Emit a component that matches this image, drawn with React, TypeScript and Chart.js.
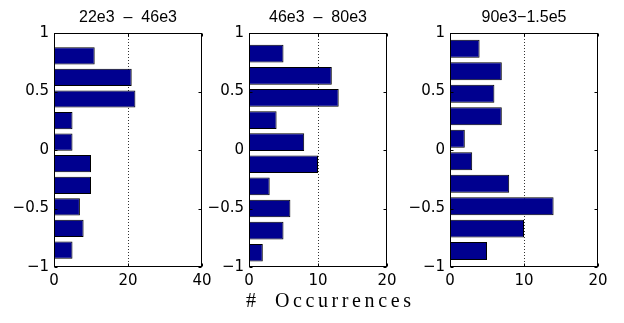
import React, { useEffect, useRef } from "react";
import { Chart, registerables } from "chart.js";
Chart.register(...registerables);

// ---- data ----
const binCenters1 = [0.804, 0.62, 0.436, 0.251, 0.067, -0.117, -0.302, -0.486, -0.67, -0.855];
const counts1 = [11, 21, 22, 5, 5, 10, 10, 7, 8, 5];
const binCenters2 = [0.823, 0.634, 0.445, 0.256, 0.067, -0.122, -0.311, -0.5, -0.689, -0.878];
const counts2 = [5, 12, 13, 4, 8, 10, 3, 6, 5, 2];
const binCenters3 = [0.865, 0.673, 0.481, 0.289, 0.097, -0.096, -0.288, -0.48, -0.672, -0.864];
const counts3 = [4, 7, 6, 7, 2, 3, 8, 14, 10, 5];
const panelTitles = ["22e3  –  46e3", "46e3  –  80e3", "90e3−1.5e5"];
const xMaxes = [40, 20, 20];
const xSteps = [20, 10, 10];
const yTickValues = [-1, -0.5, 0, 0.5, 1];
const xLabelSymbol = "#";
const xLabelWord = "Occurrences";

// ---- layout ----
const W = 624;
const H = 323;
const PLOT_TOP = 33;
const PLOT_BOTTOM = 267;
const YW = 50;
const PR = 20;
const XH = 30;
const panelsLayout = [
  { left: 54, width: 148 },
  { left: 249, width: 138 },
  { left: 450, width: 148 },
];
const BAR_COLOR = "#00008F";

const fmt = (v: number) => String(v).replace("-", "\u2212");

function makeFramePlugin(title: string) {
  return {
    id: "frameAndTitle",
    afterDraw(chart: any) {
      const ctx = chart.ctx;
      const a = chart.chartArea;
      const ys = chart.scales.y;
      const xs = chart.scales.x;
      const L = Math.round(a.left) + 0.5;
      const R = Math.round(a.right) - 0.5;
      const T = Math.round(a.top) + 0.5;
      const B = Math.round(a.bottom) - 0.5;
      ctx.save();
      ctx.strokeStyle = "#000";
      ctx.lineWidth = 1;
      ctx.setLineDash([]);
      ctx.strokeRect(L, T, R - L, B - T);
      const tl = 3;
      ctx.beginPath();
      yTickValues.forEach((v) => {
        const y = Math.round(ys.getPixelForValue(v)) + 0.5;
        ctx.moveTo(L, y);
        ctx.lineTo(L + tl, y);
        ctx.moveTo(R, y);
        ctx.lineTo(R - tl, y);
      });
      xs.ticks.forEach((t: any) => {
        const x = Math.round(xs.getPixelForValue(t.value)) + 0.5;
        ctx.moveTo(x, B);
        ctx.lineTo(x, B - tl);
        ctx.moveTo(x, T);
        ctx.lineTo(x, T + tl);
      });
      ctx.stroke();
      ctx.fillStyle = "#000";
      ctx.font = '16px "Liberation Sans", Arial, sans-serif';
      ctx.textAlign = "center";
      ctx.textBaseline = "alphabetic";
      ctx.fillText(title, (a.left + a.right) / 2, 22);
      ctx.restore();
    },
  };
}

function Panel(props: {
  centers: number[];
  counts: number[];
  title: string;
  xMax: number;
  xStep: number;
  left: number;
  width: number;
}) {
  const ref = useRef<HTMLCanvasElement>(null);
  const cw = YW + props.width + PR;
  useEffect(() => {
    const { centers, counts, title, xMax, xStep } = props;
    const chart = new Chart(ref.current as HTMLCanvasElement, {
      type: "bar",
      data: {
        datasets: [
          {
            data: centers.map((c, i) => ({ x: counts[i], y: c })),
            backgroundColor: BAR_COLOR,
            borderColor: "#000",
            borderWidth: 1,
            barPercentage: 0.8,
            categoryPercentage: 1,
          } as any,
        ],
      },
      options: {
        indexAxis: "y",
        animation: false,
        responsive: false,
        maintainAspectRatio: false,
        layout: { padding: { left: 0, right: PR, top: PLOT_TOP, bottom: H - PLOT_BOTTOM - XH } },
        plugins: { legend: { display: false }, tooltip: { enabled: false }, title: { display: false } },
        scales: {
          x: {
            type: "linear",
            min: 0,
            max: xMax,
            offset: false,
            ticks: {
              stepSize: xStep,
              color: "#000",
              font: { family: '"DejaVu Sans", sans-serif', size: 15 },
              padding: 5,
              maxRotation: 0,
              callback: (v: any) => fmt(Number(v)),
            },
            grid: {
              drawTicks: false,
              lineWidth: 1,
              color: (c: any) =>
                c.tick && c.tick.value > 0 && c.tick.value < xMax ? "#333" : "rgba(0,0,0,0)",
            },
            border: { display: false, dash: [1, 2] },
            afterFit: (s: any) => {
              s.height = XH;
            },
          },
          y: {
            type: "linear",
            min: -1,
            max: 1,
            offset: false,
            ticks: {
              stepSize: 0.5,
              color: "#000",
              font: { family: '"DejaVu Sans", sans-serif', size: 15 },
              padding: 5,
              callback: (v: any) => fmt(Number(v)),
            },
            grid: { display: false, drawTicks: false },
            border: { display: false },
            afterFit: (s: any) => {
              s.width = YW;
            },
          },
        },
      } as any,
      plugins: [makeFramePlugin(title)],
    });
    return () => chart.destroy();
  }, []);
  return (
    <canvas
      ref={ref}
      width={cw}
      height={H}
      style={{ position: "absolute", left: props.left - YW, top: 0, width: cw, height: H, display: "block" }}
    />
  );
}

export default function App() {
  const centers = [binCenters1, binCenters2, binCenters3];
  const counts = [counts1, counts2, counts3];
  const labelStyle: React.CSSProperties = {
    position: "absolute",
    top: 290,
    fontFamily: '"Liberation Serif", "DejaVu Serif", serif',
    fontSize: 20,
    lineHeight: "20px",
    color: "#000",
    whiteSpace: "pre",
  };
  return (
    <div style={{ position: "absolute", left: 0, top: 0, width: W, height: H, background: "#fff", overflow: "hidden" }}>
      {panelsLayout.map((p, i) => (
        <Panel
          key={i}
          centers={centers[i]}
          counts={counts[i]}
          title={panelTitles[i]}
          xMax={xMaxes[i]}
          xStep={xSteps[i]}
          left={p.left}
          width={p.width}
        />
      ))}
      <div style={{ ...labelStyle, left: 246 }}>{xLabelSymbol}</div>
      <div style={{ ...labelStyle, left: 275, letterSpacing: "3.6px" }}>{xLabelWord}</div>
    </div>
  );
}
